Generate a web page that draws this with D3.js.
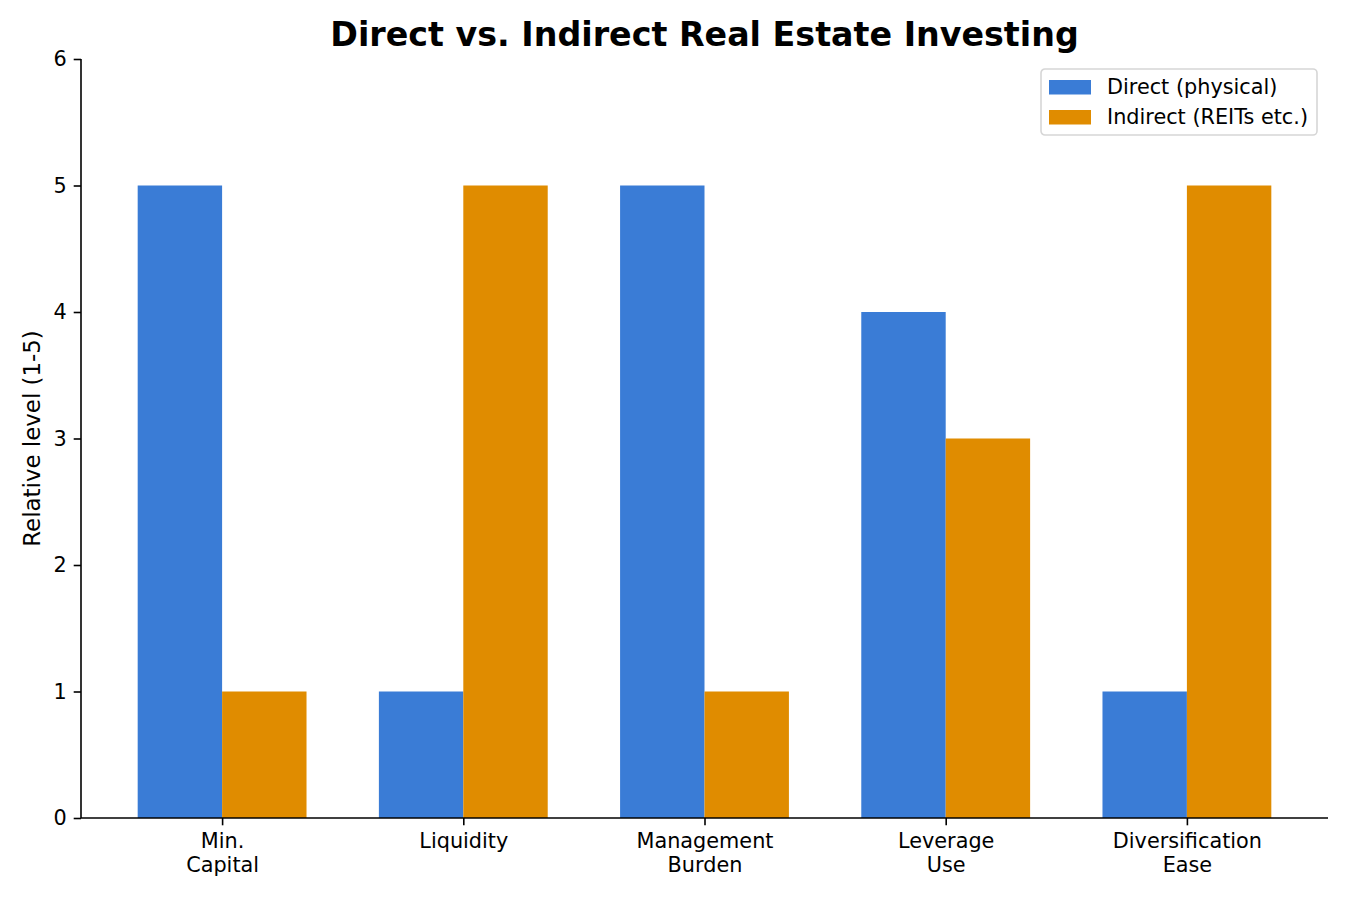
<!DOCTYPE html>
<html>
  <head>
    <meta charset="utf-8">
    <title>Direct vs. Indirect Real Estate Investing</title>
    <script src="https://cdn.jsdelivr.net/npm/d3@7"></script>
    <style>
      body { margin: 0; background: #fff; }
      svg { font-family: "DejaVu Sans", sans-serif; }
      .axis path, .axis line { stroke: #000; stroke-width: 1.6; }
      .axis text { font-size: 20.8px; fill: #000; }
    </style>
  </head>

  <body>
    <svg id="chart" width="1350" height="900"></svg>

    <script>
      // data
      const categories = [["Min.", "Capital"], ["Liquidity"], ["Management", "Burden"], ["Leverage", "Use"], ["Diversification", "Ease"]];
      const series = ["Direct (physical)", "Indirect (REITs etc.)"];
      const direct = [5, 1, 5, 4, 1];
      const indirect = [1, 5, 1, 3, 5];
      const yTicks = [0, 1, 2, 3, 4, 5, 6];
      const colours = ["#3a7cd6", "#e08c00"];

      // page elements
      const svg = d3.select("#chart");
      const plotL = 81, plotR = 1328, plotT = 59, plotB = 818;
      const barW = 0.35;
      const pad = 0.05 * (categories.length - 1 + 2 * barW);

      const x = d3.scaleLinear()
        .domain([-barW - pad, categories.length - 1 + barW + pad])
        .range([plotL, plotR]);
      const y = d3.scaleLinear()
        .domain([0, 6])
        .range([plotB, plotT]);

      // bars
      [direct, indirect].forEach(function(vals, s) {
        svg.append("g").selectAll("rect")
          .data(vals)
        .enter().append("rect")
          .attr("x", function(d, i) { return x(i + (s - 1) * barW); })
          .attr("width", x(barW) - x(0))
          .attr("y", function(d) { return y(d); })
          .attr("height", function(d) { return y(0) - y(d); })
          .attr("fill", colours[s]);
      });

      // axes
      const yAxis = svg.append("g")
        .classed("axis", true)
        .attr("transform", "translate(" + plotL + ",0)")
        .call(d3.axisLeft(y).tickValues(yTicks).tickSize(7.3).tickPadding(7).tickFormat(d3.format("d")));
      const xAxis = svg.append("g")
        .classed("axis", true)
        .attr("transform", "translate(0," + plotB + ")")
        .call(d3.axisBottom(x).tickValues(d3.range(categories.length)).tickSize(7.3).tickSizeOuter(0).tickFormat(""));
      svg.selectAll(".axis").attr("font-family", "DejaVu Sans").attr("font-size", null);
      yAxis.select(".domain").attr("d", "M0," + plotB + "V" + plotT);
      xAxis.select(".domain").attr("d", "M" + plotL + ",0H" + plotR);

      // multi-line category labels
      xAxis.selectAll(".tick").append("text")
        .attr("text-anchor", "middle")
        .attr("fill", "#000")
        .selectAll("tspan")
          .data(function(d) { return categories[d]; })
        .enter().append("tspan")
          .attr("x", 0)
          .attr("y", function(d, i) { return 30 + i * 23.5; })
          .text(function(d) { return d; });

      // labels
      svg.append("text")
        .attr("x", (plotL + plotR) / 2)
        .attr("y", 46)
        .attr("text-anchor", "middle")
        .style("font-size", "33.3px")
        .style("font-weight", "bold")
        .text("Direct vs. Indirect Real Estate Investing");
      svg.append("text")
        .attr("transform", "translate(40," + (plotT + plotB) / 2 + ") rotate(-90)")
        .attr("text-anchor", "middle")
        .style("font-size", "22.9px")
        .text("Relative level (1-5)");

      // legend
      const legend = svg.append("g")
        .attr("transform", "translate(1041,69)");
      legend.append("rect")
        .attr("width", 276)
        .attr("height", 66)
        .attr("rx", 4)
        .attr("fill", "#fff")
        .attr("fill-opacity", 0.8)
        .attr("stroke", "#d6d6d6")
        .attr("stroke-width", 1.6);
      series.forEach(function(name, s) {
        legend.append("rect")
          .attr("x", 8)
          .attr("y", 11 + s * 30)
          .attr("width", 42)
          .attr("height", 14.5)
          .attr("fill", colours[s]);
        legend.append("text")
          .attr("x", 66)
          .attr("y", 25 + s * 30)
          .style("font-size", "20.8px")
          .text(name);
      });
    </script>
  </body>
</html>
